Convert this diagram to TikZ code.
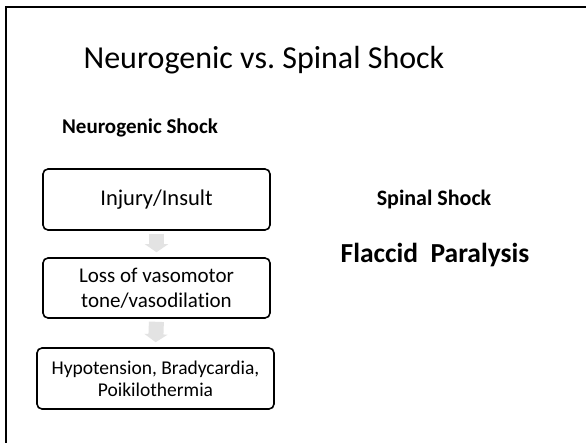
\documentclass[tikz,border=0pt]{standalone}
\usepackage{fontspec}
\setmainfont{Carlito}[Ligatures=NoCommon]
\frenchspacing
\usetikzlibrary{arrows.meta}
\tikzset{
  flowbox/.style={draw, line width=1.6pt, rounded corners=5pt, align=center, inner sep=0pt},
  flowarrow/.style={line width=15pt, draw=gray!22, -{Triangle[width=23pt,length=8pt]}, shorten <=3pt, shorten >=5pt},
}
\begin{document}
\begin{tikzpicture}[x=1pt,y=-1pt]
\useasboundingbox (0,0) rectangle (586,443);
\fill[white] (0,0) rectangle (586,443);
\draw[line width=2pt] (5.5,443) -- (5.5,7.5) -- (586,7.5);
\node[font=\fontsize{32}{38}\selectfont] (title) at (264,60) {Neurogenic vs. Spinal Shock};
\node[font=\bfseries\fontsize{21}{25}\selectfont] (neuro) at (140,128) {Neurogenic Shock};
\node[flowbox, font=\fontsize{22.5}{26}\selectfont, minimum width=227pt, minimum height=61pt] (b1) at (156.5,199.5) {Injury/Insult};
\node[flowbox, font=\fontsize{21}{25}\selectfont, minimum width=227pt, minimum height=60pt] (b2) at (156.5,288) {Loss of vasomotor\\tone/vasodilation};
\node[flowbox, font=\fontsize{19.5}{22}\selectfont, minimum width=237pt, minimum height=61pt] (b3) at (155.5,378.5) {Hypotension, Bradycardia,\\Poikilothermia};
\draw[flowarrow] (b1.south) -- (b2.north);
\draw[flowarrow] (b2.south) -- (b3.north);
\node[font=\bfseries\fontsize{22}{26}\selectfont] (spinal) at (434,200) {Spinal Shock};
\node[font=\bfseries\fontsize{27.5}{32}\selectfont] (flaccid) at (435,255) {Flaccid\ \ Paralysis};
\end{tikzpicture}
\end{document}
